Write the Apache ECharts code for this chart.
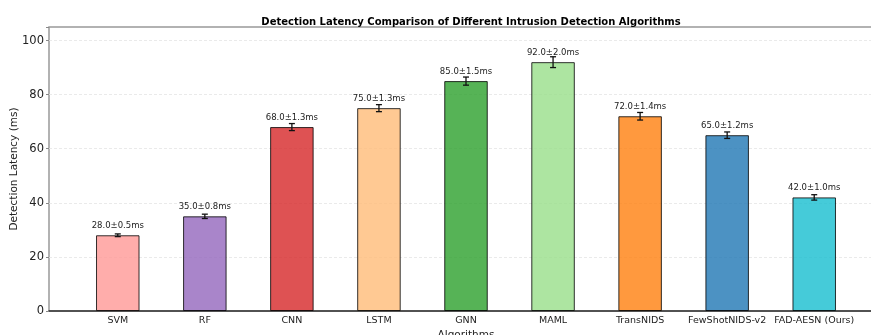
<!DOCTYPE html>
<html><head><meta charset="utf-8">
<script src="https://cdn.jsdelivr.net/npm/echarts@6/dist/echarts.min.js"></script>
<style>html,body{margin:0;padding:0;background:#fff}#c{width:871px;height:335px}</style>
</head><body><div id="c"></div>
<script>
const categories = ['SVM','RF','CNN','LSTM','GNN','MAML','TransNIDS','FewShotNIDS-v2','FAD-AESN (Ours)'];
const latency = [28.0,35.0,68.0,75.0,85.0,92.0,72.0,65.0,42.0];
const latencyStd = [0.5,0.8,1.3,1.3,1.5,2.0,1.4,1.2,1.0];
const barColors = ['#ff9896','#9467bd','#d62728','#ffbb78','#2ca02c','#98df8a','#ff7f0e','#1f77b4','#17becf'];
const yTickValues = [0,20,40,60,80,100];

const FONT = 'DejaVu Sans';
const chart = echarts.init(document.getElementById('c'), null, {renderer:'canvas'});
const idx = categories.map((_, i) => i);

chart.setOption({
  animation: false,
  backgroundColor: '#fff',
  title: {
    text: 'Detection Latency Comparison of Different Intrusion Detection Algorithms',
    left: 466, top: 12, textAlign: 'center',
    textStyle: {fontFamily: FONT, fontSize: 10, fontWeight: 'bold', color: '#000'}
  },
  grid: {left: 49, top: 27, right: -12, bottom: 24, outerBoundsMode: 'none', containLabel: false,
         show: true, borderColor: '#999', borderWidth: 1.5, backgroundColor: 'transparent'},
  xAxis: {
    type: 'value', min: -0.79, max: 8.79,
    name: 'Algorithms', nameLocation: 'middle', nameGap: 19, nameMoveOverlap: false,
    nameTextStyle: {fontFamily: FONT, fontSize: 10.5, color: '#222'},
    axisLine: {show: true, onZero: false, lineStyle: {color: '#333', width: 1.5}},
    axisTick: {show: false},
    axisLabel: {customValues: idx, formatter: v => categories[Math.round(v)], fontFamily: FONT, fontSize: 9.5, color: '#222', margin: 5},
    splitLine: {show: false}
  },
  yAxis: {
    type: 'value', min: 0, max: 105, interval: 20,
    name: 'Detection Latency (ms)', nameLocation: 'middle', nameGap: 29, nameMoveOverlap: false,
    nameTextStyle: {fontFamily: FONT, fontSize: 10.5, color: '#222'},
    axisLine: {show: false, onZero: false},
    axisTick: {show: true, length: 3, lineStyle: {color: '#888'}},
    axisLabel: {formatter: v => (yTickValues.indexOf(v) >= 0 ? String(v) : ''), fontFamily: FONT, fontSize: 11.5, color: '#222', margin: 5},
    splitLine: {show: true, showMinLine: false, showMaxLine: false, lineStyle: {color: '#e4e4e4', type: [3, 2], width: 0.8}}
  },
  series: [
    {
      type: 'bar', barWidth: 43.5,
      data: latency.map((v, i) => ({value: [i, v], itemStyle: {color: barColors[i]}})),
      itemStyle: {opacity: 0.8, borderColor: '#000', borderWidth: 1}
    },
    {
      type: 'custom', z: 10,
      data: latency.map((v, i) => [i, v, latencyStd[i]]),
      renderItem: (params, api) => {
        const x = api.value(0), v = api.value(1), e = api.value(2);
        const top = api.coord([x, v + e]);
        const bot = api.coord([x, v - e]);
        const mid = api.coord([x, v]);
        const cap = 3;
        const ls = {stroke: '#111', lineWidth: 1.3};
        return {type: 'group', children: [
          {type: 'line', shape: {x1: top[0], y1: top[1], x2: bot[0], y2: bot[1]}, style: ls},
          {type: 'line', shape: {x1: top[0]-cap, y1: top[1], x2: top[0]+cap, y2: top[1]}, style: ls},
          {type: 'line', shape: {x1: bot[0]-cap, y1: bot[1], x2: bot[0]+cap, y2: bot[1]}, style: ls},
          {type: 'text', x: mid[0], y: mid[1] - 5, style: {
            text: v.toFixed(1) + '±' + e.toFixed(1) + 'ms',
            align: 'center', verticalAlign: 'bottom',
            font: '8.5px "DejaVu Sans"', fill: '#222'}}
        ]};
      }
    }
  ]
});
</script></body></html>
